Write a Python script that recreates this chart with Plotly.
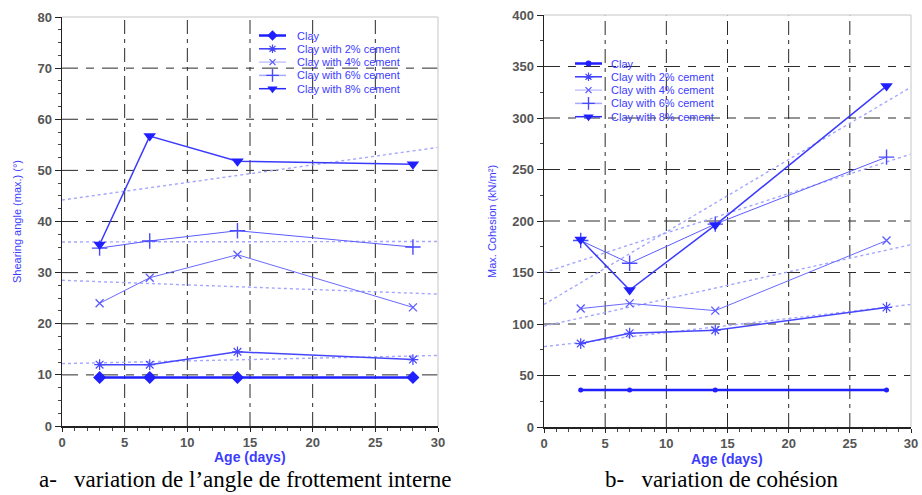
import plotly.graph_objects as go

# ---------------- data ----------------
days = [3, 7, 14, 28]
trend_days = [0, 30]
series_names = ["Clay", "Clay with 2% cement", "Clay with 4% cement",
                "Clay with 6% cement", "Clay with 8% cement"]

angle_clay = [9.5, 9.5, 9.5, 9.5]
angle_2 = [12.0, 12.0, 14.5, 13.0]
angle_4 = [24.0, 29.0, 33.5, 23.2]
angle_6 = [34.8, 36.2, 38.2, 35.0]
angle_8 = [35.5, 56.7, 51.8, 51.2]
angle_trend_2 = [12.2, 13.8]
angle_trend_4 = [28.5, 25.8]
angle_trend_6 = [36.0, 36.1]
angle_trend_8 = [44.2, 54.5]

coh_clay = [36, 36, 36, 36]
coh_2 = [81, 91, 94, 116]
coh_4 = [115, 120, 113, 181]
coh_6 = [181, 159, 197, 262]
coh_8 = [182, 133, 196, 331]
coh_trend_2 = [78, 119]
coh_trend_4 = [98, 177]
coh_trend_6 = [150, 265]
coh_trend_8 = [119, 330]

x_ticks = [0, 5, 10, 15, 20, 25, 30]
angle_ticks = [0, 10, 20, 30, 40, 50, 60, 70, 80]
coh_ticks = [0, 50, 100, 150, 200, 250, 300, 350, 400]

# ---------------- styles ----------------
FONT = "Arial, Liberation Sans, sans-serif"
BLUE_TXT = "#3c3cff"
styles = [
    dict(line=dict(color="#1f1fff", width=2.5), marker=dict(symbol="diamond", size=10, color="#1f1fff")),
    dict(line=dict(color="#4646ff", width=1.5), marker=dict(symbol="asterisk-open", size=9, color="#4646ff", line=dict(width=1.2, color="#4646ff"))),
    dict(line=dict(color="#6a6aff", width=1), marker=dict(symbol="x-thin-open", size=8, color="#5a5aff", line=dict(width=1.3, color="#5a5aff"))),
    dict(line=dict(color="#5c5cff", width=1), marker=dict(symbol="cross-thin-open", size=11, color="#4a4aff", line=dict(width=1.4, color="#4a4aff"))),
    dict(line=dict(color="#3a3aff", width=1.5), marker=dict(symbol="triangle-down", size=11, color="#2020ff")),
]
legend_line_colors = ["#1f1fff", "#3a3aff", "#c4c6ff", "#a8aaff", "#2a2aff"]
TREND = dict(color="#a3a6ff", width=1.4, dash="dot")

W, H = 922, 495
xl = [62 / W, 438 / W]
xr = [544 / W, 911 / W]
yl = [1 - 426 / H, 1 - 17 / H]
yr = [1 - 427 / H, 1 - 15 / H]

fig = go.Figure()

left_series = [angle_clay, angle_2, angle_4, angle_6, angle_8]
right_series = [coh_clay, coh_2, coh_4, coh_6, coh_8]
left_trends = [angle_trend_2, angle_trend_4, angle_trend_6, angle_trend_8]
right_trends = [coh_trend_2, coh_trend_4, coh_trend_6, coh_trend_8]

for tr in left_trends:
    fig.add_trace(go.Scatter(x=trend_days, y=tr, mode="lines", line=TREND,
                             showlegend=False, hoverinfo="skip", xaxis="x", yaxis="y"))
for tr in right_trends:
    fig.add_trace(go.Scatter(x=trend_days, y=tr, mode="lines", line=TREND,
                             showlegend=False, hoverinfo="skip", xaxis="x2", yaxis="y2"))

right_markers = [dict(symbol="circle", size=5, color="#1f1fff")] + [s["marker"] for s in styles[1:]]

for name, vals, st in zip(series_names, left_series, styles):
    fig.add_trace(go.Scatter(x=days, y=vals, name=name, mode="lines+markers",
                             line=st["line"], marker=st["marker"], showlegend=False,
                             xaxis="x", yaxis="y"))
for name, vals, st, mk in zip(series_names, right_series, styles, right_markers):
    fig.add_trace(go.Scatter(x=days, y=vals, name=name, mode="lines+markers",
                             line=st["line"], marker=mk, showlegend=False,
                             xaxis="x2", yaxis="y2"))

# ---------------- hand-drawn legends (overlay pixel axis) ----------------
ROW = 13.3
legend_specs = [
    dict(x0=259, x1=286, tx=295, y0=35.5, markers=[s["marker"] for s in styles]),
    dict(x0=575, x1=602, tx=609, y0=63.5, markers=right_markers),
]
for spec in legend_specs:
    for i, (name, mk, lc) in enumerate(zip(series_names, spec["markers"], legend_line_colors)):
        yy = spec["y0"] + i * ROW
        xm = (spec["x0"] + spec["x1"]) / 2
        lw = 2.5 if i == 0 else 1.5
        fig.add_trace(go.Scatter(x=[spec["x0"], spec["x1"]], y=[yy, yy], mode="lines",
                                 line=dict(color=lc, width=lw), showlegend=False,
                                 hoverinfo="skip", xaxis="x3", yaxis="y3"))
        m = dict(mk)
        m["size"] = max(6, mk.get("size", 8) - 2)
        fig.add_trace(go.Scatter(x=[xm], y=[yy], mode="markers", marker=m, showlegend=False,
                                 hoverinfo="skip", xaxis="x3", yaxis="y3"))
        fig.add_annotation(text=name, x=spec["tx"], y=yy, xref="x3", yref="y3",
                           showarrow=False, xanchor="left", yanchor="middle",
                           font=dict(family=FONT, size=11, color=BLUE_TXT))

TICKFONT = dict(family=FONT, size=13, color="#555555", weight="bold")

def xaxis(domain, anchor):
    return dict(domain=domain, anchor=anchor, range=[0, 30], tickvals=x_ticks,
                showline=True, linecolor="#222222", linewidth=1.5,
                ticks="outside", ticklen=4, tickcolor="#222222",
                minor=dict(dtick=1, ticks="outside", ticklen=3, tickcolor="#444444"),
                tickfont=TICKFONT, zeroline=False, showgrid=False, automargin=False)

def yaxis(domain, anchor, rng, ticks, minor):
    return dict(domain=domain, anchor=anchor, range=rng, tickvals=ticks,
                showline=True, linecolor="#222222", linewidth=1.5,
                ticks="outside", ticklen=6, tickcolor="#222222",
                minor=dict(dtick=minor, ticks="outside", ticklen=3, tickcolor="#444444"),
                tickfont=TICKFONT, zeroline=False, showgrid=False, automargin=False)

fig.update_layout(
    width=W, height=H,
    margin=dict(l=0, r=0, t=0, b=0, autoexpand=False),
    paper_bgcolor="white", plot_bgcolor="rgba(0,0,0,0)",
    showlegend=False,
    xaxis=xaxis(xl, "y"),
    yaxis=yaxis(yl, "x", [0, 80], angle_ticks, 2.5),
    xaxis2=xaxis(xr, "y2"),
    yaxis2=yaxis(yr, "x2", [0, 400], coh_ticks, 25),
    xaxis3=dict(domain=[0, 1], anchor="y3", range=[0, W], visible=False, fixedrange=True, automargin=False),
    yaxis3=dict(domain=[0, 1], anchor="x3", range=[H, 0], visible=False, fixedrange=True, automargin=False),
)

# dashed grid (drawn from the tick arrays in data coordinates)
GRID_V = dict(color="#2a2a2a", width=1, dash="14px,5px,4px,5px")
GRID_H = dict(color="#2a2a2a", width=1, dash="16px,8px,8px,8px")
for xa, ya, yt in (("x", "y", angle_ticks), ("x2", "y2", coh_ticks)):
    for xv in x_ticks[1:-1]:
        fig.add_shape(type="line", xref=xa, yref=ya + " domain", x0=xv, x1=xv, y0=0, y1=1,
                      line=GRID_V, layer="below")
    for yv in yt[1:-1]:
        fig.add_shape(type="line", xref=xa + " domain", yref=ya, x0=0, x1=1, y0=yv, y1=yv,
                      line=GRID_H, layer="below")
    # thin grey top/right frame
    fig.add_shape(type="line", xref=xa + " domain", yref=ya + " domain", x0=0, x1=1, y0=1, y1=1,
                  line=dict(color="#d8d8d8", width=1.5))
    fig.add_shape(type="line", xref=xa + " domain", yref=ya + " domain", x0=1, x1=1, y0=0, y1=1,
                  line=dict(color="#d8d8d8", width=1.5))

# axis titles and captions
SERIF = "Liberation Serif, Times New Roman, serif"
ann = [
    dict(text="<b>Age (days)</b>", x=250 / W, y=1 - 457 / H, size=14, color=BLUE_TXT, family=FONT, angle=0),
    dict(text="<b>Age (days)</b>", x=727 / W, y=1 - 459 / H, size=14, color=BLUE_TXT, family=FONT, angle=0),
    dict(text="Shearing angle (max.) (°)", x=17 / W, y=1 - 222 / H, size=11, color=BLUE_TXT, family=FONT, angle=-90),
    dict(text="Max. Cohesion (kN/m²)", x=492 / W, y=1 - 221 / H, size=11, color=BLUE_TXT, family=FONT, angle=-90),
    dict(text="a-   variation de l\u2019angle de frottement interne", x=246 / W, y=1 - 479 / H, size=23,
         color="#000000", family=SERIF, angle=0),
    dict(text="b-   variation de cohésion", x=722 / W, y=1 - 479 / H, size=23,
         color="#000000", family=SERIF, angle=0),
]
for a in ann:
    fig.add_annotation(text=a["text"], x=a["x"], y=a["y"], xref="paper", yref="paper",
                       showarrow=False, textangle=a["angle"], xanchor="center", yanchor="middle",
                       font=dict(family=a["family"], size=a["size"], color=a["color"]))

fig.write_html("out.html", config={"displayModeBar": False, "staticPlot": True},
               post_script="document.body.style.margin='0px';")
